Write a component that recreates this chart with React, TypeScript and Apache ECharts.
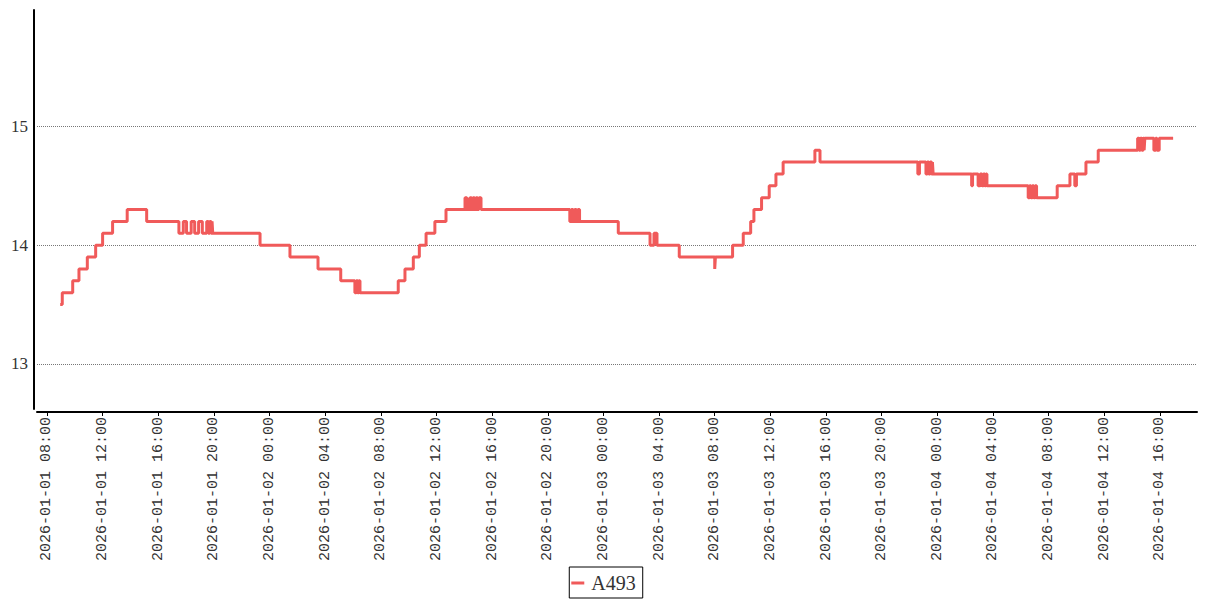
import React, { useEffect, useRef } from 'react';
import * as echarts from 'echarts';

const seriesName = 'A493';

const times: string[] = [
  '2026-01-01 08:57', '2026-01-01 09:06', '2026-01-01 09:51', '2026-01-01 10:18', '2026-01-01 10:54',
  '2026-01-01 11:30', '2026-01-01 12:00', '2026-01-01 12:43', '2026-01-01 13:46', '2026-01-01 15:10',
  '2026-01-01 17:29', '2026-01-01 17:48', '2026-01-01 18:02', '2026-01-01 18:22', '2026-01-01 18:37',
  '2026-01-01 18:54', '2026-01-01 19:10', '2026-01-01 19:29', '2026-01-01 19:36', '2026-01-01 19:42',
  '2026-01-01 19:48', '2026-01-01 19:52', '2026-01-01 19:55', '2026-01-01 23:19', '2026-01-02 01:28',
  '2026-01-02 03:29', '2026-01-02 05:07', '2026-01-02 06:08', '2026-01-02 06:14', '2026-01-02 06:20',
  '2026-01-02 06:25', '2026-01-02 06:30', '2026-01-02 09:15', '2026-01-02 09:44', '2026-01-02 10:20',
  '2026-01-02 10:46', '2026-01-02 11:15', '2026-01-02 11:53', '2026-01-02 12:41', '2026-01-02 14:03',
  '2026-01-02 14:11', '2026-01-02 14:24', '2026-01-02 14:31', '2026-01-02 14:37', '2026-01-02 14:44',
  '2026-01-02 14:50', '2026-01-02 14:57', '2026-01-02 15:03', '2026-01-02 15:12', '2026-01-02 21:35',
  '2026-01-02 21:42', '2026-01-02 21:49', '2026-01-02 21:56', '2026-01-02 22:03', '2026-01-02 22:10',
  '2026-01-02 22:17', '2026-01-03 01:04', '2026-01-03 03:21', '2026-01-03 03:38', '2026-01-03 03:51',
  '2026-01-03 05:27', '2026-01-03 08:00', '2026-01-03 08:03', '2026-01-03 09:17', '2026-01-03 10:03',
  '2026-01-03 10:35', '2026-01-03 10:49', '2026-01-03 11:22', '2026-01-03 11:55', '2026-01-03 12:24',
  '2026-01-03 12:55', '2026-01-03 15:12', '2026-01-03 15:34', '2026-01-03 22:36', '2026-01-03 22:43',
  '2026-01-03 23:11', '2026-01-03 23:17', '2026-01-03 23:23', '2026-01-03 23:29', '2026-01-03 23:35',
  '2026-01-03 23:39', '2026-01-03 23:42', '2026-01-04 02:28', '2026-01-04 02:32', '2026-01-04 02:56',
  '2026-01-04 03:05', '2026-01-04 03:13', '2026-01-04 03:19', '2026-01-04 03:25', '2026-01-04 03:30',
  '2026-01-04 03:34', '2026-01-04 06:32', '2026-01-04 06:38', '2026-01-04 06:44', '2026-01-04 06:50',
  '2026-01-04 06:56', '2026-01-04 07:02', '2026-01-04 07:08', '2026-01-04 08:37', '2026-01-04 09:32',
  '2026-01-04 09:53', '2026-01-04 10:00', '2026-01-04 10:41', '2026-01-04 11:34', '2026-01-04 14:24',
  '2026-01-04 14:30', '2026-01-04 14:36', '2026-01-04 14:42', '2026-01-04 14:48', '2026-01-04 14:52',
  '2026-01-04 14:55', '2026-01-04 15:34', '2026-01-04 15:42', '2026-01-04 15:47', '2026-01-04 15:57',
  '2026-01-04 16:57',
];

const values: number[] = [
  13.5, 13.6, 13.7, 13.8, 13.9,
  14.0, 14.1, 14.2, 14.3, 14.2,
  14.1, 14.2, 14.1, 14.2, 14.1,
  14.2, 14.1, 14.2, 14.1, 14.2,
  14.1, 14.2, 14.1, 14.0, 13.9,
  13.8, 13.7, 13.6, 13.7, 13.6,
  13.7, 13.6, 13.7, 13.8, 13.9,
  14.0, 14.1, 14.2, 14.3, 14.4,
  14.3, 14.4, 14.3, 14.4, 14.3,
  14.4, 14.3, 14.4, 14.3, 14.2,
  14.3, 14.2, 14.3, 14.2, 14.3,
  14.2, 14.1, 14.0, 14.1, 14.0,
  13.9, 13.8, 13.9, 14.0, 14.1,
  14.2, 14.3, 14.4, 14.5, 14.6,
  14.7, 14.8, 14.7, 14.6, 14.7,
  14.6, 14.7, 14.6, 14.7, 14.6,
  14.7, 14.6, 14.5, 14.6, 14.5,
  14.6, 14.5, 14.6, 14.5, 14.6,
  14.5, 14.4, 14.5, 14.4, 14.5,
  14.4, 14.5, 14.4, 14.5, 14.6,
  14.5, 14.6, 14.7, 14.8, 14.9,
  14.8, 14.9, 14.8, 14.9, 14.8,
  14.9, 14.8, 14.9, 14.8, 14.9,
  14.9,
];

const xTickLabels: string[] = [
  '2026-01-01 08:00', '2026-01-01 12:00', '2026-01-01 16:00', '2026-01-01 20:00',
  '2026-01-02 00:00', '2026-01-02 04:00', '2026-01-02 08:00', '2026-01-02 12:00',
  '2026-01-02 16:00', '2026-01-02 20:00', '2026-01-03 00:00', '2026-01-03 04:00',
  '2026-01-03 08:00', '2026-01-03 12:00', '2026-01-03 16:00', '2026-01-03 20:00',
  '2026-01-04 00:00', '2026-01-04 04:00', '2026-01-04 08:00', '2026-01-04 12:00',
  '2026-01-04 16:00',
];

const yTickValues: number[] = [13, 14, 15];

const xRange: string[] = ['2026-01-01 07:17', '2026-01-04 18:40'];
const yRange: number[] = [12.62, 15.98];

function toMs(s: string): number {
  const [d, t] = s.split(' ');
  const [Y, M, D] = d.split('-').map(Number);
  const [h, m] = t.split(':').map(Number);
  return Date.UTC(Y, M - 1, D, h, m);
}

function pad(n: number): string {
  return n < 10 ? '0' + n : String(n);
}

function fmt(ms: number): string {
  const dt = new Date(ms);
  return (
    dt.getUTCFullYear() + '-' + pad(dt.getUTCMonth() + 1) + '-' + pad(dt.getUTCDate()) +
    ' ' + pad(dt.getUTCHours()) + ':' + pad(dt.getUTCMinutes())
  );
}

export default function App() {
  const ref = useRef<HTMLDivElement>(null);
  useEffect(() => {
    const chart = echarts.init(ref.current!, null, { renderer: 'svg' });
    const xTicks = xTickLabels.map(toMs);
    const data = times.map((t, i) => [toMs(t), values[i]]);
    chart.setOption({
      animation: false,
      backgroundColor: '#ffffff',
      grid: { left: 37, right: 10, top: 10, bottom: 191, containLabel: false },
      legend: {
        data: [{ name: seriesName, icon: 'rect' }],
        left: 'center',
        bottom: 2,
        borderColor: '#000',
        borderWidth: 1,
        borderRadius: 0,
        padding: [6, 7, 5, 2],
        itemWidth: 13,
        itemHeight: 3,
        itemStyle: { color: '#f05a5a' },
        textStyle: { fontFamily: 'Liberation Serif', fontSize: 20, color: '#333', padding: [0, 0, 0, 2] },
      },
      xAxis: {
        type: 'value',
        min: toMs(xRange[0]),
        max: toMs(xRange[1]),
        offset: 3,
        axisLine: { show: true, onZero: false, lineStyle: { color: '#000', width: 2 } },
        axisTick: { show: true, length: 4, customValues: xTicks, lineStyle: { color: '#000', width: 1 } },
        axisLabel: {
          customValues: xTicks,
          rotate: 90,
          margin: 5,
          fontFamily: 'Liberation Mono',
          fontSize: 15,
          color: '#333',
          formatter: (v: number) => fmt(v),
        },
        splitLine: { show: false },
      },
      yAxis: {
        type: 'value',
        min: yRange[0],
        max: yRange[1],
        offset: 3,
        axisLine: { show: true, onZero: false, lineStyle: { color: '#000', width: 2 } },
        axisTick: { show: false, customValues: yTickValues },
        axisLabel: {
          customValues: yTickValues,
          margin: 6,
          fontFamily: 'Liberation Serif',
          fontSize: 17,
          color: '#333',
        },
        splitLine: { show: true, lineStyle: { color: '#777', type: 'dotted', width: 1 } },
      },
      series: [
        {
          name: seriesName,
          type: 'line',
          step: 'end',
          data,
          showSymbol: false,
          symbol: 'none',
          lineStyle: { color: '#f05a5a', width: 3 },
          itemStyle: { color: '#f05a5a' },
        },
      ],
    });
    return () => chart.dispose();
  }, []);
  return (
    <div
      ref={ref}
      style={{ position: 'absolute', left: 0, top: 0, width: 1207, height: 600, background: '#fff' }}
    />
  );
}
